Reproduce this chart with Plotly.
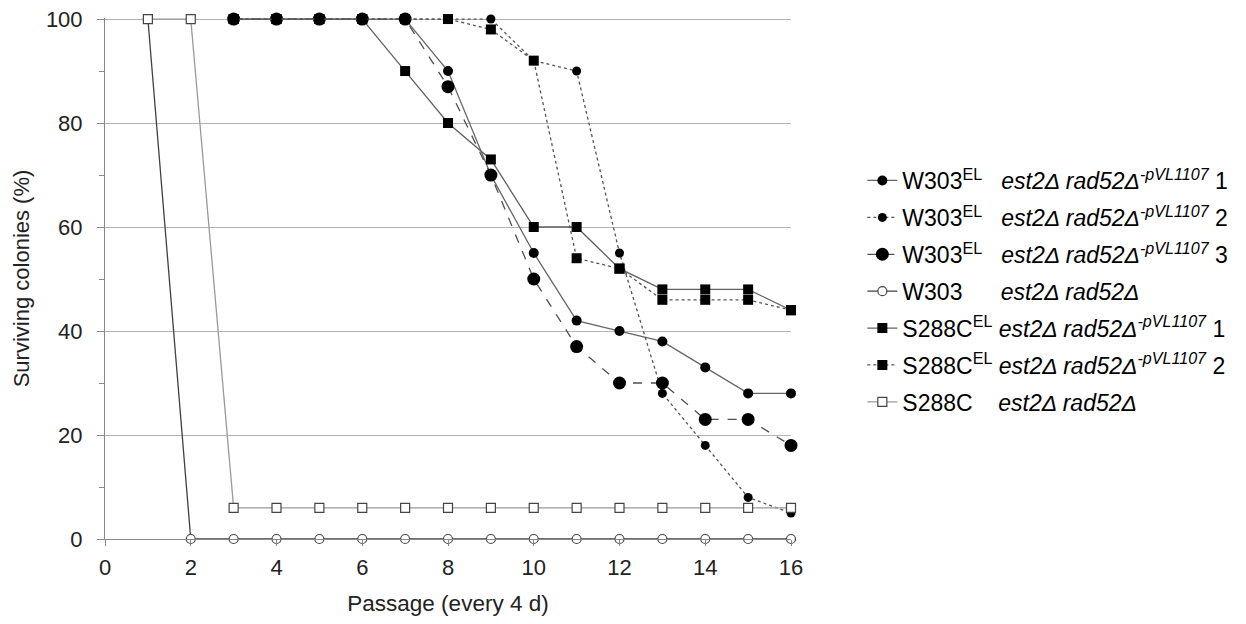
import plotly.graph_objects as go

passage_all = list(range(1, 17))
passage_el = list(range(3, 17))

w303el_1 = [100, 100, 100, 100, 100, 90, 70, 55, 42, 40, 38, 33, 28, 28]
w303el_2 = [100, 100, 100, 100, 100, 100, 100, 92, 90, 55, 28, 18, 8, 5]
w303el_3 = [100, 100, 100, 100, 100, 87, 70, 50, 37, 30, 30, 23, 23, 18]
w303 = [100, 0, 0, 0, 0, 0, 0, 0, 0, 0, 0, 0, 0, 0, 0, 0]
s288cel_1 = [100, 100, 100, 100, 90, 80, 73, 60, 60, 52, 48, 48, 48, 44]
s288cel_2 = [100, 100, 100, 100, 100, 100, 98, 92, 54, 52, 46, 46, 46, 44]
s288c = [100, 100, 6, 6, 6, 6, 6, 6, 6, 6, 6, 6, 6, 6, 6, 6]

NB = "\u00a0"
geno = "<i>est2Δ rad52Δ</i><sup><i>-pVL1107</i></sup>"
names = [
    "W303<sup>EL</sup>" + NB * 3 + geno + " 1",
    "W303<sup>EL</sup>" + NB * 3 + geno + " 2",
    "W303<sup>EL</sup>" + NB * 3 + geno + " 3",
    "W303" + NB * 6 + "<i>est2Δ rad52Δ</i>",
    "S288C<sup>EL</sup>" + NB * 1 + geno + " 1",
    "S288C<sup>EL</sup>" + NB * 1 + geno + " 2",
    "S288C" + NB * 4 + "<i>est2Δ rad52Δ</i>",
]

series = [
    (passage_el, w303el_1, "solid", "circle", 10, "black", "#666666"),
    (passage_el, w303el_2, "dot", "circle", 9, "black", "#555555"),
    (passage_el, w303el_3, "dash", "circle", 13, "black", "#505050"),
    (passage_all, w303, "solid", "circle-open", 9, "#444444", "#404040"),
    (passage_el, s288cel_1, "solid", "square", 10, "black", "#606060"),
    (passage_el, s288cel_2, "dot", "square", 10, "black", "#555555"),
    (passage_all, s288c, "solid", "square-open", 9, "#444444", "#999999"),
]

fig = go.Figure()
for i, (xs, ys, dash, sym, size, mcol, lcol) in enumerate(series):
    if sym.endswith("open"):
        marker = dict(symbol=sym.replace("-open", ""), size=size, color="white",
                      line=dict(color=mcol, width=1.2))
    else:
        marker = dict(symbol=sym, size=size, color=mcol, line=dict(width=0))
    fig.add_trace(go.Scatter(
        x=xs, y=ys, mode="lines+markers", name=names[i],
        line=dict(color=lcol, width=1.3, dash=dash),
        marker=marker, cliponaxis=False, legendgroup=str(i),
    ))

fig.update_layout(
    width=1246, height=624,
    paper_bgcolor="white", plot_bgcolor="white",
    margin=dict(l=97, r=463, t=10, b=93, autoexpand=False),
    font=dict(family="Liberation Sans, Arial, sans-serif", size=22, color="#222222"),
    showlegend=True,
    legend=dict(x=1.104, xanchor="left", y=0.475, yanchor="middle",
                font=dict(size=23, color="black"), tracegroupgap=4,
                bgcolor="rgba(0,0,0,0)"),
    xaxis=dict(range=[0, 16], dtick=2, tick0=0, showgrid=False, zeroline=False,
               automargin=False, ticklabeloverflow="allow",
               showline=True, linecolor="#888888", linewidth=1,
               ticks="outside", ticklen=6, tickcolor="#888888",
               ticklabelstandoff=3,
               title=dict(text="Passage (every 4 d)", standoff=15, font=dict(size=22.5))),
    yaxis=dict(range=[0, 100.2], dtick=20, tick0=0, showgrid=True, gridcolor="#b4b4b4",
               automargin=False, ticklabeloverflow="allow",
               gridwidth=1, zeroline=False, showline=True, linecolor="#888888", linewidth=1,
               ticks="outside", ticklen=7, tickcolor="#888888", ticklabelstandoff=10,
               minor=dict(dtick=10, ticks="outside", ticklen=5, tickcolor="#888888", showgrid=False),
               title=dict(text="Surviving colonies (%)", standoff=10, font=dict(size=22))),
)

fig.write_html("out.html")
